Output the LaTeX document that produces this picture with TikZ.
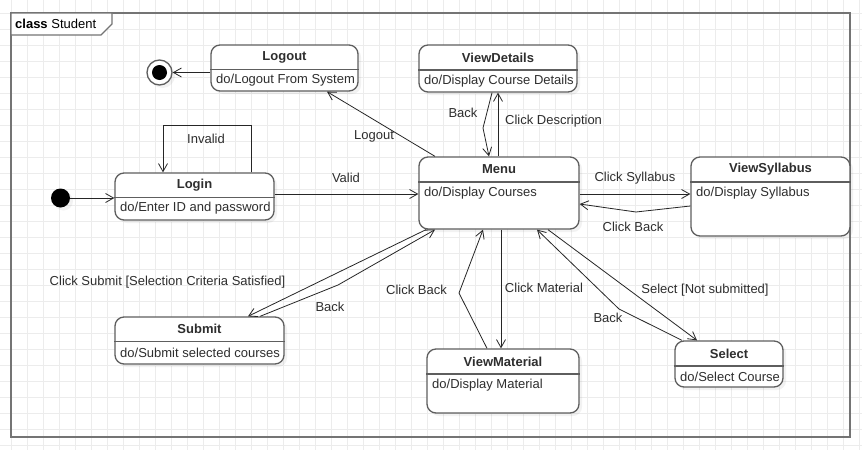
\documentclass[tikz,border=0pt]{standalone}
\usepackage{fontspec}
\setmainfont{Liberation Sans}
\usetikzlibrary{arrows.meta,shadows}

\definecolor{framegray}{HTML}{747474}
\definecolor{boxgray}{HTML}{5E5E5E}
\definecolor{inkgray}{HTML}{2E2E2E}

\tikzset{
  statebox/.style={draw=boxgray,line width=1.3pt,rounded corners=9pt,fill=white,inner sep=0pt,
    drop shadow={opacity=.10,shadow xshift=3pt,shadow yshift=-3pt}},
  dividerline/.style={draw=boxgray,line width=1.3pt},
  statetitle/.style={font=\fontsize{13}{15}\selectfont\bfseries,text=inkgray,inner sep=0pt},
  activity/.style={anchor=west,text=inkgray,inner sep=0pt},
  trans/.style={draw=black!85,line width=0.8pt,-{Straight Barb[length=8pt,width=9pt]}},
  lbl/.style={text=inkgray,inner sep=1pt},
  gridline/.style={draw=gray!15,line width=0.8pt},
}

\begin{document}
\begin{tikzpicture}[x=1pt,y=-1pt,font=\fontsize{13}{15}\selectfont]
      \def\umlstate#1#2#3#4#5#6#7#8{%
    \node[statebox,minimum width={#4-#2},minimum height={#5-#3}] (#1) at ({(#2+#4)/2},{(#3+#5)/2}) {};
    \draw[dividerline] (#1.west |- 0,#6) -- (#1.east |- 0,#6);
    \node[statetitle] (#1-title) at ({(#2+#4)/2},{(#3+#6)/2}) {#7};
    \node[activity] (#1-do) at ({#2+5},{#6+11}) {#8};%
  }
\useasboundingbox (0,0) rectangle (862,450);
\fill[white] (0,0) rectangle (862,450);
\foreach \gx in {11,27,...,859} \draw[gridline] (\gx,0) -- (\gx,450);
\foreach \gy in {13,29,...,445} \draw[gridline] (0,\gy) -- (862,\gy);

% frame of the class
\draw[framegray,line width=1.5pt] (11,13) rectangle (850,437);
\draw[framegray,line width=1.2pt,fill=white] (11,13) -- (112,13) -- (112,24) -- (101,35) -- (11,35) -- cycle;
\node[anchor=west,inner sep=0pt,text=black] (frametitle) at (15,24) {\textbf{class} Student};

\umlstate{logout}{211}{45}{358}{91}{69.5}{Logout}{do/Logout From System}
\umlstate{viewdetails}{419}{45}{577}{92}{70}{ViewDetails}{do/Display Course Details}
\umlstate{menu}{419}{157}{579}{229}{182}{Menu}{do/Display Courses}
\umlstate{viewsyllabus}{691}{157}{850}{236}{182}{ViewSyllabus}{do/Display Syllabus}
\umlstate{login}{115}{173}{274}{220}{197.5}{Login}{do/Enter ID and password}
\umlstate{submit}{115}{317}{284}{364}{341.5}{Submit}{do/Submit selected courses}
\umlstate{viewmaterial}{427}{349}{579}{413}{374}{ViewMaterial}{do/Display Material}
\umlstate{select}{675}{341}{783}{387}{366}{Select}{do/Select Course}

\node[circle,fill=black,minimum size=19pt,inner sep=0pt,
  drop shadow={opacity=.10,shadow xshift=3pt,shadow yshift=-3pt}] (init) at (60.5,198) {};
\node[circle,draw=boxgray,line width=1.3pt,fill=white,minimum size=25pt,inner sep=0pt,
  drop shadow={opacity=.10,shadow xshift=3pt,shadow yshift=-3pt}] (final) at (159.5,72.5) {};
\fill[black] (final) circle (7.5);

% transitions
\draw[trans] (init) -- (login.west |- init);
\draw[trans] (login.north -| 251,0) -- (251,125) -- (163,125) -- (login.north -| 163,0);
\draw[trans] (login.east |- 0,194) -- (menu.west |- 0,194);
\draw[trans] (menu.north -| 435,0) -- (logout.south -| 327,0);
\draw[trans] (logout.west |- final) -- (final);
\draw[trans] (viewdetails.south -| 492,0) -- (483,128) -- (menu.north -| 489,0);
\draw[trans] (menu.north -| 498,0) -- (viewdetails.south -| 498,0);
\draw[trans] (menu.east |- 0,194) -- (viewsyllabus.west |- 0,194);
\draw[trans] (viewsyllabus.west |- 0,206) -- (636,212) -- (menu.east |- 0,204);
\draw[trans] (menu.south -| 426,0) -- (submit.north -| 248,0);
\draw[trans] (submit.north -| 260,0) -- (338,285) -- (menu.south -| 435,0);
\draw[trans] (menu.south -| 501,0) -- (viewmaterial.north -| 501,0);
\draw[trans] (viewmaterial.north -| 487,0) -- (459,293) -- (menu.south -| 483,0);
\draw[trans] (menu.south -| 548,0) -- (select.north -| 697,0);
\draw[trans] (select.north -| 682,0) -- (619,309) -- (menu.south -| 537,0);

\node[lbl] (invalid) at (206,139) {Invalid};
\node[lbl] (valid) at (346,178) {Valid};
\node[lbl] (logoutlbl) at (374,136) {Logout};
\node[lbl] (backdetails) at (463,113) {Back};
\node[lbl,anchor=west] (clickdesc) at (504,121) {Click Description};
\node[lbl] (clicksyll) at (635,178) {Click Syllabus};
\node[lbl] (backsyll) at (633,227) {Click Back};
\node[lbl] (clicksubmit) at (167.5,282) {Click Submit [Selection Criteria Satisfied]};
\node[lbl] (backsubmit) at (330,307) {Back};
\node[lbl] (backmaterial) at (416.5,290) {Click Back};
\node[lbl] (clickmaterial) at (544,288) {Click Material};
\node[lbl] (selectlbl) at (705,290) {Select [Not submitted]};
\node[lbl] (backselect) at (608,318) {Back};

\end{tikzpicture}
\end{document}
